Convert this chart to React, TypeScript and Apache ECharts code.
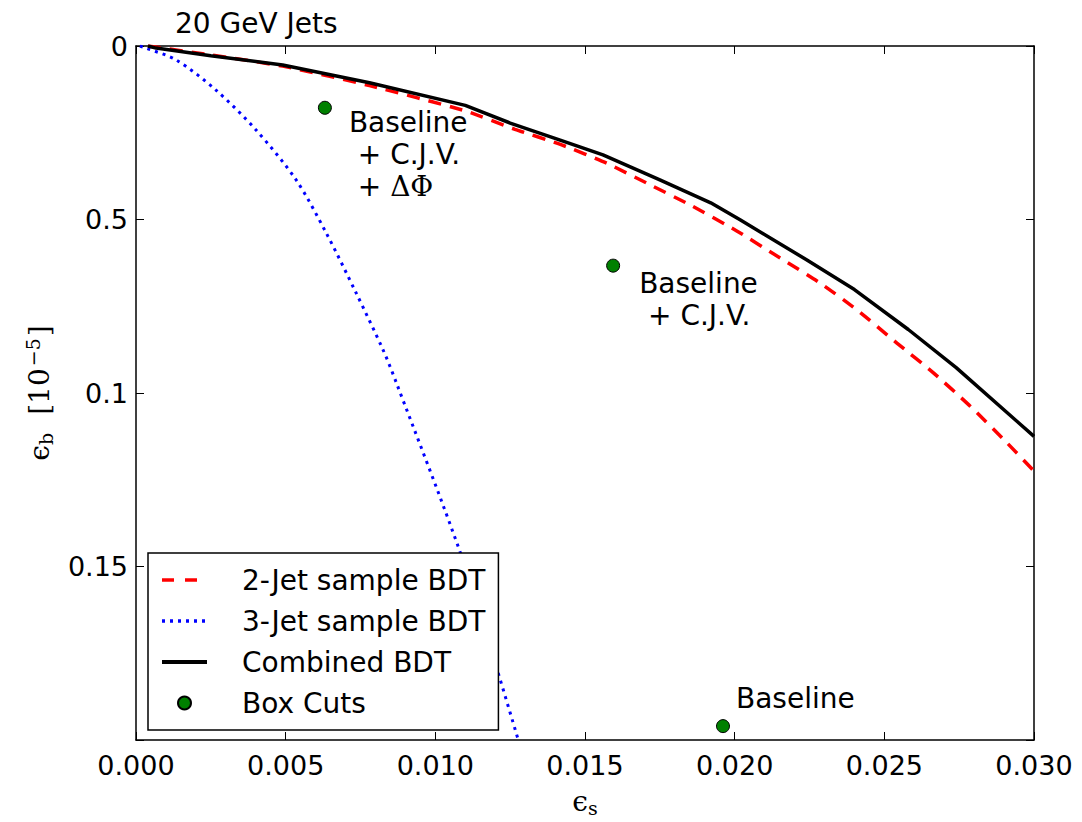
import React, { useEffect, useRef } from "react";
import * as echarts from "echarts";

const xTickLabels = ["0.000", "0.005", "0.010", "0.015", "0.020", "0.025", "0.030"];
const yTickLabels = ["0", "0.5", "0.1", "0.15", ""];

const seriesNames = ["2-Jet sample BDT", "3-Jet sample BDT", "Combined BDT", "Box Cuts"];

const twoJetX = [0.0004, 0.0025, 0.0049, 0.0078, 0.011, 0.01266, 0.01422, 0.01573, 0.01706, 0.01851, 0.02007, 0.02152, 0.02285, 0.02408, 0.02542, 0.02664, 0.02787, 0.02909, 0.03];
const twoJetY = [0, 0.0026, 0.0058, 0.0114, 0.0187, 0.024, 0.0285, 0.0338, 0.0395, 0.0458, 0.0533, 0.0611, 0.0683, 0.076, 0.0856, 0.0942, 0.1038, 0.1143, 0.1225];

const threeJetX = [0.00013, 0.00033, 0.00134, 0.00267, 0.00401, 0.00535, 0.00635, 0.00735, 0.00825, 0.0087, 0.01083, 0.01206, 0.01276];
const threeJetY = [0, 0.0006, 0.004, 0.0127, 0.0242, 0.0386, 0.0538, 0.0711, 0.0875, 0.0971, 0.1459, 0.1796, 0.1997];

const combinedX = [0.0004, 0.00067, 0.0025, 0.0049, 0.0078, 0.011, 0.0125, 0.01417, 0.0156, 0.0175, 0.0192, 0.02018, 0.0224, 0.024, 0.0258, 0.0274, 0.03];
const combinedY = [0, 0.0006, 0.0028, 0.0055, 0.0106, 0.0171, 0.0222, 0.0271, 0.0314, 0.0386, 0.0452, 0.0501, 0.0616, 0.0702, 0.0817, 0.0927, 0.1125];

const boxX = [0.00631, 0.01594, 0.01961];
const boxY = [0.0178, 0.0633, 0.196];
const boxLabels = [
  "{t|Baseline}\n{t| + C.J.V.}\n{t| + }{m|ΔΦ}",
  "{t|Baseline}\n{t| + C.J.V.}",
  "{t|Baseline}",
];
const boxLabelOffsets = [[31, 6], [33, 9], [20, -37]];

const SANS = "DejaVu Sans";
const SERIF = "DejaVu Serif";

const zip = (xs: number[], ys: number[]) => xs.map((x, i) => [x, ys[i]]);

export default function App() {
  const ref = useRef<HTMLDivElement>(null);
  useEffect(() => {
    if (!ref.current) return;
    const chart = echarts.init(ref.current, undefined, { renderer: "svg" });
    const axisLine = { show: true, onZero: false, lineStyle: { color: "#000", width: 1.5 } };
    const axisTick = { show: true, inside: true, length: 8, lineStyle: { color: "#000", width: 1 } };
    chart.setOption({
      animation: false,
      backgroundColor: "#fff",
      title: {
        text: "20 GeV Jets",
        left: 170,
        top: 4,
        textStyle: { fontFamily: SANS, fontSize: 28, fontWeight: "normal", color: "#000" },
      },
      grid: { left: 136, right: 48, top: 46, bottom: 81 },
      legend: {
        left: 148,
        top: 553,
        orient: "vertical",
        data: [
          { name: seriesNames[0], itemStyle: { opacity: 0 }, lineStyle: { width: 3.5, type: [12, 11] } },
          { name: seriesNames[1], itemStyle: { opacity: 0 }, lineStyle: { width: 3.5, type: [3, 5] } },
          { name: seriesNames[2], itemStyle: { opacity: 0 }, lineStyle: { width: 4 } },
          { name: seriesNames[3], itemStyle: { opacity: 1 } },
        ],
        itemWidth: 45,
        itemHeight: 13,
        itemGap: 11,
        padding: [12, 13, 12, 12],
        borderColor: "#000",
        borderWidth: 1.5,
        borderRadius: 0,
        backgroundColor: "#fff",
        textStyle: { fontFamily: SANS, fontSize: 28, color: "#000", lineHeight: 30, padding: [0, 0, 0, 30] },
      },
      xAxis: [
        {
          type: "value",
          min: 0,
          max: 0.03,
          interval: 0.005,
          position: "bottom",
          axisLine,
          axisTick,
          splitLine: { show: false },
          axisLabel: {
            fontFamily: SANS,
            fontSize: 27,
            color: "#000",
            margin: 12,
            formatter: (v: number) => xTickLabels[Math.round(v / 0.005)],
          },
          name: "{e|ϵ}{s|s}",
          nameLocation: "middle",
          nameGap: 46,
          nameTextStyle: {
            rich: {
              e: { fontFamily: SERIF, fontSize: 28, color: "#000" },
              s: { fontFamily: SERIF, fontSize: 19, color: "#000", verticalAlign: "bottom", padding: [12, 0, 0, 0] },
            },
          },
        },
        {
          type: "value",
          min: 0,
          max: 0.03,
          interval: 0.005,
          position: "top",
          axisLine,
          axisTick,
          splitLine: { show: false },
          axisLabel: { show: false },
        },
      ],
      yAxis: [
        {
          type: "value",
          inverse: true,
          min: 0,
          max: 0.2,
          interval: 0.05,
          position: "left",
          axisLine,
          axisTick,
          splitLine: { show: false },
          axisLabel: {
            fontFamily: SANS,
            fontSize: 27,
            color: "#000",
            margin: 8,
            formatter: (v: number) => yTickLabels[Math.round(v / 0.05)],
          },
          name: "{e|ϵ}{s|b}{g|[10}{p|−5}{n|]}",
          nameLocation: "middle",
          nameGap: 80,
          nameTextStyle: {
            rich: {
              e: { fontFamily: SERIF, fontSize: 28, color: "#000" },
              s: { fontFamily: SERIF, fontSize: 19, color: "#000", padding: [12, 0, 0, 0] },
              g: { fontFamily: SERIF, fontSize: 28, color: "#000", padding: [0, 0, 0, 18] },
              n: { fontFamily: SERIF, fontSize: 28, color: "#000" },
              p: { fontFamily: SERIF, fontSize: 19, color: "#000", padding: [0, 2, 14, 2] },
            },
          },
        },
        {
          type: "value",
          inverse: true,
          min: 0,
          max: 0.2,
          interval: 0.05,
          position: "right",
          axisLine,
          axisTick,
          splitLine: { show: false },
          axisLabel: { show: false },
        },
      ],
      series: [
        {
          name: seriesNames[0],
          type: "line",
          data: zip(twoJetX, twoJetY),
          symbol: "none",
          smooth: 0.2,
          lineStyle: { color: "#ff0000", width: 3.5, type: [13, 9] },
          itemStyle: { color: "#ff0000" },
          z: 2,
        },
        {
          name: seriesNames[1],
          type: "line",
          data: zip(threeJetX, threeJetY),
          symbol: "none",
          smooth: 0.3,
          lineStyle: { color: "#0000ff", width: 3, type: [3, 5] },
          itemStyle: { color: "#0000ff" },
          z: 2,
        },
        {
          name: seriesNames[2],
          type: "line",
          data: zip(combinedX, combinedY),
          symbol: "none",
          lineStyle: { color: "#000", width: 3.5 },
          itemStyle: { color: "#000" },
          z: 3,
        },
        {
          name: seriesNames[3],
          type: "scatter",
          symbol: "circle",
          symbolSize: 13,
          itemStyle: { color: "#008000", borderColor: "#000", borderWidth: 1, opacity: 1 },
          z: 4,
          data: boxX.map((x, i) => ({
            value: [x, boxY[i]],
            label: {
              show: true,
              color: "#000",
              opacity: 1,
              formatter: boxLabels[i],
              position: boxLabelOffsets[i],
              rich: {
                t: { fontFamily: SANS, fontSize: 28, color: "#000", lineHeight: 32 },
                m: { fontFamily: SERIF, fontSize: 28, color: "#000", lineHeight: 32 },
              },
            },
          })),
        },
      ],
    });
    return () => chart.dispose();
  }, []);
  return <div ref={ref} style={{ position: "absolute", left: 0, top: 0, width: 1082, height: 822 }} />;
}
